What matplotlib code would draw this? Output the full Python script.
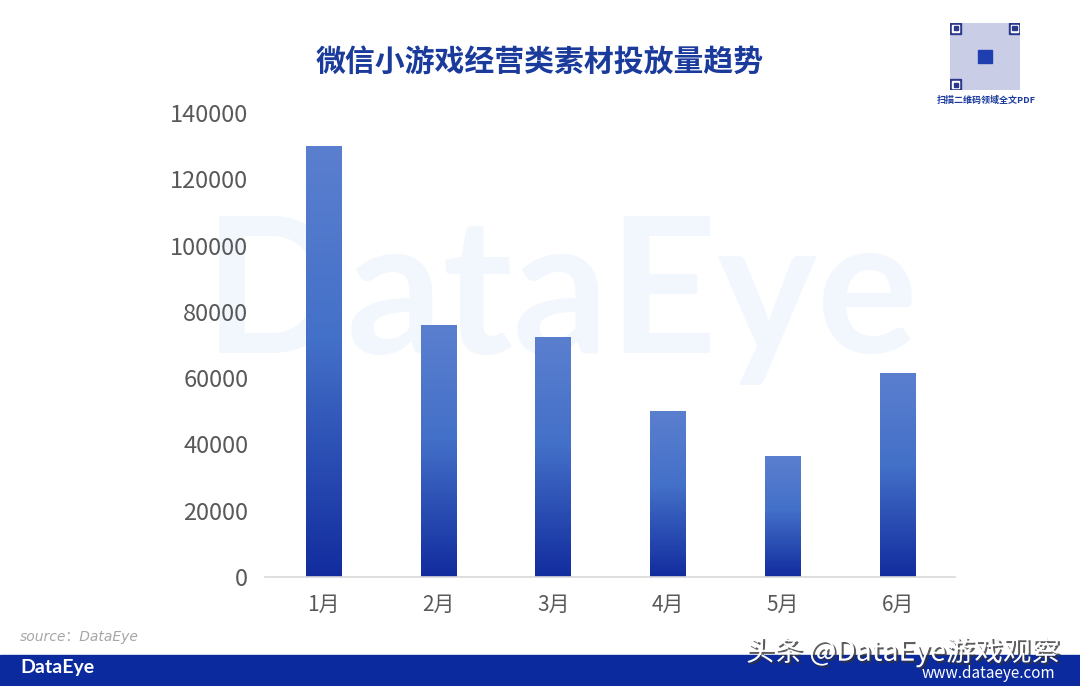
import numpy as np
import matplotlib.pyplot as plt
import matplotlib.patheffects as pe
from matplotlib.colors import LinearSegmentedColormap
from matplotlib.patches import Rectangle

plt.rcParams['font.family'] = ['Noto Sans CJK SC', 'DejaVu Sans']

months = ['1月', '2月', '3月', '4月', '5月', '6月']
values = [130000, 76000, 72500, 50000, 36500, 61500]
yticks = [0, 20000, 40000, 60000, 80000, 100000, 120000, 140000]

title = '微信小游戏经营类素材投放量趋势'
source = 'source：DataEye'

fig = plt.figure(figsize=(10.8, 6.86), dpi=100)
fig.patch.set_facecolor('white')

# faint watermark behind everything
fig.text(0.52, 0.565, 'DataEye', fontsize=136, fontweight='bold',
         color='#f2f7fd', ha='center', va='center', family='Lato', zorder=-5)

ax = fig.add_axes([265/1080, 1-577/686, 690/1080, 464/686])
ax.patch.set_alpha(0)

cmap = LinearSegmentedColormap.from_list('bar', [(0, '#122c9e'), (0.55, '#4370c8'), (1, '#5b7fcf')])
grad = np.linspace(0, 1, 256).reshape(-1, 1)
x = np.arange(len(months))
w = 0.31
bars = ax.bar(x, values, width=w, color='none', edgecolor='none')
for b in bars:
    x0 = b.get_x()
    h = b.get_height()
    im = ax.imshow(grad, cmap=cmap, origin='lower', aspect='auto',
                   extent=[x0, x0 + w, 0, h], zorder=2)
    im.set_clip_path(b)

ax.set_xlim(-0.51, 5.5)
ax.set_ylim(0, 140000)
ax.set_xticks(x)
ax.set_xticklabels(months, fontsize=15, color='#595959')
ax.set_yticks(yticks)
ax.set_yticklabels([str(v) for v in yticks], fontsize=17, color='#595959')
ax.tick_params(length=0)
ax.tick_params(axis='x', pad=12)
ax.tick_params(axis='y', pad=12)
for s in ['top', 'right', 'left']:
    ax.spines[s].set_visible(False)
ax.spines['bottom'].set_color('#d9d9d9')
ax.spines['bottom'].set_linewidth(1.2)

fig.text(0.5, 1-62/686, title, fontsize=21.5, fontweight='bold',
         color='#1a3a9c', ha='center', va='center')

# QR code placeholder
qr = fig.add_axes([950/1080, 1-90/686, 70/1080, 67/686])
qr.set_xlim(0, 1); qr.set_ylim(0, 1); qr.axis('off')
qr.add_patch(Rectangle((0, 0), 1, 1, color='#c9cde6'))
for (px, py) in [(0, 0.84), (0.84, 0.84), (0, 0)]:
    qr.add_patch(Rectangle((px, py), 0.16, 0.16, color='#2b3a8c'))
    qr.add_patch(Rectangle((px+0.03, py+0.03), 0.10, 0.10, color='white'))
    qr.add_patch(Rectangle((px+0.05, py+0.05), 0.06, 0.06, color='#2b3a8c'))
qr.add_patch(Rectangle((0.4, 0.4), 0.2, 0.2, color='#1f3fb0'))
fig.text(986/1080, 1-100/686, '扫描二维码领域全文PDF', fontsize=6.5, fontweight='bold',
         color='#1a3a9c', ha='center', va='center')

fig.text(20/1080, 1-637/686, source, fontsize=10, style='italic',
         color='#a6a6a6', ha='left', va='center', family=['DejaVu Sans', 'Noto Sans CJK SC'])

# bottom banner
fig.patches.append(Rectangle((0, 0), 1, 31/686, transform=fig.transFigure,
                             color='#0a2a9e', zorder=1))
fig.text(20/1080, 1-668/686, 'DataEye', fontsize=14, fontweight='bold',
         color='white', ha='left', va='center', family='Lato', zorder=3)
fig.text(1060/1080, 1-652/686, '头条 @DataEye游戏观察', fontsize=20.5,
         color='white', ha='right', va='center', zorder=3,
         path_effects=[pe.withSimplePatchShadow(offset=(1.5, -1.5), shadow_rgbFace='#333333', alpha=0.8)])
fig.text(1055/1080, 1-673/686, 'www.dataeye.com', fontsize=11,
         color='white', ha='right', va='center', zorder=3)

fig.savefig('out.png', dpi=100)
